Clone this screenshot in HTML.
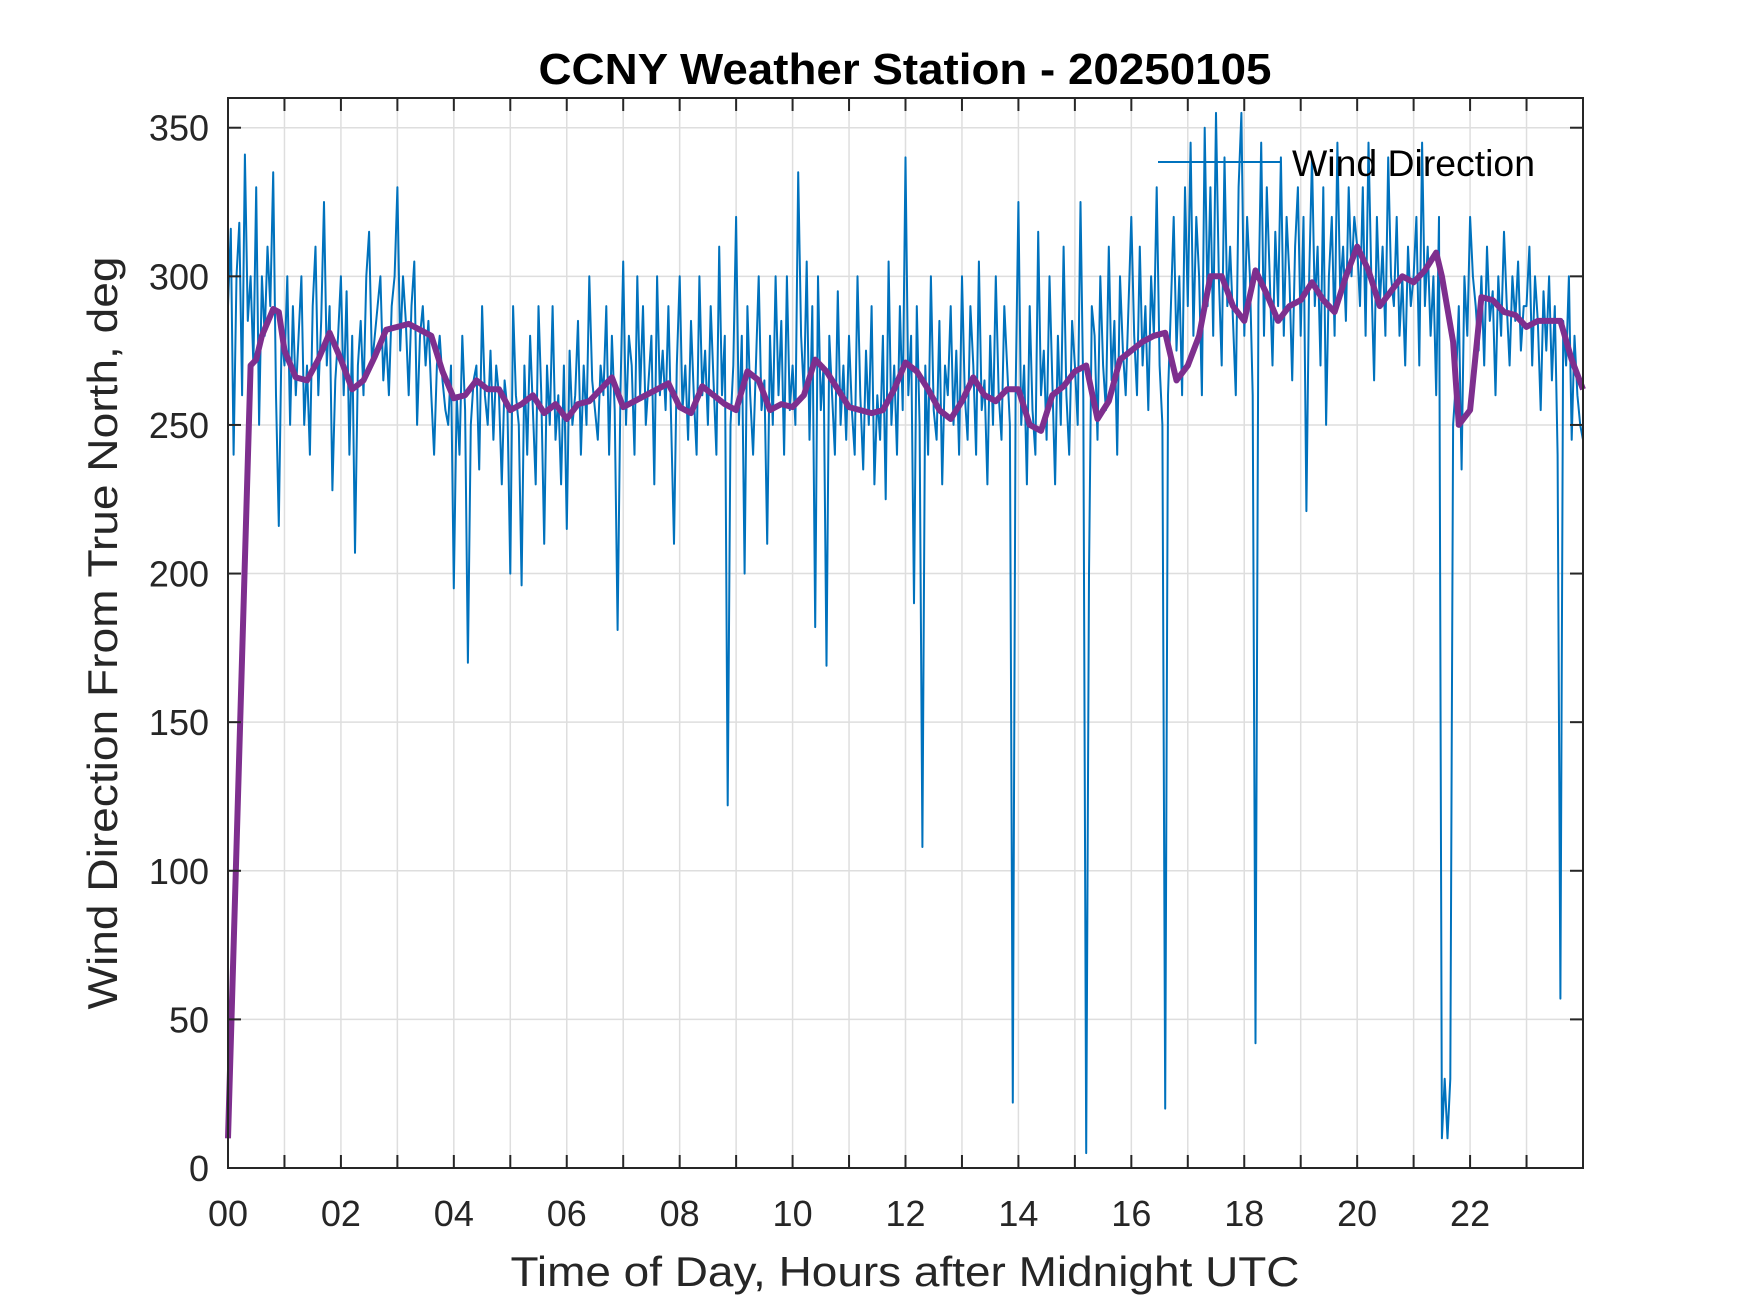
<!DOCTYPE html>
<html><head><meta charset="utf-8"><style>
html,body{margin:0;padding:0;background:#fff;}
svg{display:block;font-family:"Liberation Sans",Arial,sans-serif;}
</style></head><body>
<svg id="chart" width="1750" height="1313" viewBox="0 0 1750 1313" xmlns="http://www.w3.org/2000/svg">
<rect x="0" y="0" width="1750" height="1313" fill="#fff"/>
<g id="grid"></g>
<g id="series"></g>
<g id="axes"></g>
<text x="905" y="84" text-anchor="middle" font-size="44" font-weight="bold" fill="#000" textLength="733" lengthAdjust="spacingAndGlyphs">CCNY Weather Station - 20250105</text>
<text x="905" y="1286" text-anchor="middle" font-size="42" fill="#262626" textLength="789" lengthAdjust="spacingAndGlyphs">Time of Day, Hours after Midnight UTC</text>
<text transform="translate(117,633) rotate(-90)" text-anchor="middle" font-size="42" fill="#262626" textLength="753" lengthAdjust="spacingAndGlyphs">Wind Direction From True North, deg</text>
<g>
<line x1="1158" y1="162" x2="1281" y2="162" stroke="#0072BD" stroke-width="2"/>
<text x="1292" y="176" font-size="37" fill="#000" textLength="243" lengthAdjust="spacingAndGlyphs">Wind Direction</text>
</g>
</svg>
<script>
const blueStep = 0.05;
const blueValues = [
290,316,240,300,318,260,341,285,300,270,330,250,300,280,310,290,335,260,216,280,
270,300,250,290,260,280,300,250,270,240,290,310,260,285,325,270,290,228,265,280,
300,260,295,240,280,207,270,285,260,300,315,270,280,290,300,265,280,260,290,300,
330,275,300,285,260,290,305,250,280,290,270,285,260,240,270,280,265,255,250,270,
195,260,240,280,255,170,250,265,270,235,290,260,250,275,245,270,260,230,265,255,
200,290,260,250,196,270,240,280,255,230,290,260,210,270,250,290,245,260,230,270,
215,275,250,260,285,240,270,250,300,265,255,245,270,260,290,240,280,255,181,260,
305,250,280,270,240,300,260,290,250,265,280,230,300,260,275,255,290,250,210,270,
300,255,270,245,285,260,240,300,260,275,250,290,265,240,310,260,280,122,250,270,
320,250,280,200,290,260,240,270,300,255,265,210,280,250,300,260,285,240,300,255,
270,250,335,280,260,305,245,290,182,300,255,270,169,280,260,240,295,250,270,245,
280,255,240,300,260,235,275,250,290,230,260,245,280,225,305,250,270,240,290,255,
340,260,280,190,290,250,108,270,240,300,255,245,285,230,270,260,290,250,275,240,
300,260,245,290,270,240,305,255,265,230,280,250,300,260,245,290,270,250,22,260,
325,250,270,230,290,255,240,315,260,275,245,300,265,230,280,250,310,260,240,285,
270,250,325,260,5,200,290,280,245,300,270,255,310,265,285,240,300,275,260,290,
320,280,260,310,270,290,255,300,280,330,270,250,20,260,290,320,275,300,260,330,
290,345,280,320,300,260,350,290,330,280,355,300,270,340,290,310,285,260,330,355,
280,320,300,260,42,290,345,280,330,300,270,315,290,340,280,320,300,265,310,330,
280,320,221,300,340,290,310,270,330,250,300,320,280,345,295,310,285,330,300,320,
310,290,330,280,345,300,265,320,290,310,280,340,300,290,320,280,300,270,310,290,
300,320,270,345,290,310,280,300,260,320,10,30,10,30,250,265,290,235,300,280,
320,300,290,275,300,270,310,285,295,260,300,280,315,290,270,300,285,305,275,290,
290,310,270,300,285,255,295,275,300,265,290,240,57,285,270,300,245,280,260,250,245
];
const avgHours = [0,0.4,0.5,0.6,0.8,0.9,1.0,1.2,1.4,1.6,1.8,2.0,2.2,2.4,2.6,2.8,3.0,3.2,3.4,3.6,3.8,4.0,4.2,4.4,4.6,4.8,5.0,5.2,5.4,5.6,5.8,6.0,6.2,6.4,6.6,6.8,7.0,7.2,7.4,7.6,7.8,8.0,8.2,8.4,8.6,8.8,9.0,9.2,9.4,9.6,9.8,10.0,10.2,10.4,10.6,10.8,11.0,11.2,11.4,11.6,11.8,12.0,12.2,12.4,12.6,12.8,13.0,13.2,13.4,13.6,13.8,14.0,14.2,14.4,14.6,14.8,15.0,15.2,15.4,15.6,15.8,16.0,16.2,16.4,16.6,16.8,17.0,17.2,17.4,17.6,17.8,18.0,18.2,18.4,18.6,18.8,19.0,19.2,19.4,19.6,19.8,20.0,20.2,20.4,20.6,20.8,21.0,21.2,21.4,21.5,21.7,21.8,22.0,22.2,22.4,22.6,22.8,23.0,23.2,23.4,23.6,23.8,24.0];
const avgValues = [10,270,272,280,289,288,275,266,265,272,281,272,262,265,273,282,283,284,282,280,268,259,260,265,262,262,255,257,260,254,257,252,257,258,262,266,256,258,260,262,264,256,254,263,260,257,255,268,265,255,257,256,260,272,268,262,256,255,254,255,262,271,268,262,255,252,258,266,260,258,262,262,250,248,260,263,268,270,252,258,272,275,278,280,281,265,270,280,300,300,290,285,302,294,285,290,292,298,292,288,300,310,302,290,295,300,298,302,308,300,278,250,255,293,292,288,287,283,285,285,285,272,262];
const yTicks = [0,50,100,150,200,250,300,350];
const xTickLabels = ["00","02","04","06","08","10","12","14","16","18","20","22"];

const X0=228, X1=1583, Y0=98, Y1=1168, XMAX=24, YMAX=360;
const NS="http://www.w3.org/2000/svg";
const xs = h => X0 + (h/XMAX)*(X1-X0);
const ys = v => Y1 - (v/YMAX)*(Y1-Y0);
function mk(tag, attrs, parent){const e=document.createElementNS(NS,tag);for(const k in attrs)e.setAttribute(k,attrs[k]);parent.appendChild(e);return e;}
const grid=document.getElementById('grid'), series=document.getElementById('series'), axes=document.getElementById('axes');

for(let h=1;h<24;h++){
  const l=mk('line',{x1:xs(h),x2:xs(h),y1:Y0,y2:Y1,stroke:'#dedede','stroke-width':1.5},grid);
  
  
}
yTicks.forEach(v=>{
  const l=mk('line',{x1:X0,x2:X1,y1:ys(v),y2:ys(v),stroke:'#dedede','stroke-width':1.5},grid);
  
  
});

let d='';
blueValues.forEach((v,i)=>{d+=(i?'L':'M')+xs(i*blueStep).toFixed(1)+' '+ys(v).toFixed(1);});
const bl=mk('path',{d:d,fill:'none',stroke:'#0072BD','stroke-width':2,'stroke-linejoin':'round'},series);



let d2='';
avgValues.forEach((v,i)=>{d2+=(i?'L':'M')+xs(avgHours[i]).toFixed(1)+' '+ys(v).toFixed(1);});
const pl=mk('path',{d:d2,fill:'none',stroke:'#7E2F8E','stroke-width':6,'stroke-linejoin':'round'},series);



const box=mk('rect',{x:X0,y:Y0,width:X1-X0,height:Y1-Y0,fill:'none',stroke:'#262626','stroke-width':2},axes);


for(let h=1;h<24;h++){
  const t1=mk('line',{x1:xs(h),x2:xs(h),y1:Y1,y2:Y1-13,stroke:'#262626','stroke-width':2},axes);
  
  
  const t2=mk('line',{x1:xs(h),x2:xs(h),y1:Y0,y2:Y0+13,stroke:'#262626','stroke-width':2},axes);
  
  
}
xTickLabels.forEach((lab,i)=>{
  const t=mk('text',{x:xs(i*2),y:1226,'text-anchor':'middle','font-size':36,fill:'#262626'},axes);
  t.textContent=lab;
  
  
});
yTicks.forEach(v=>{
  const t1=mk('line',{x1:X0,x2:X0+13,y1:ys(v),y2:ys(v),stroke:'#262626','stroke-width':2},axes);
  
  
  const t2=mk('line',{x1:X1,x2:X1-13,y1:ys(v),y2:ys(v),stroke:'#262626','stroke-width':2},axes);
  
  
  const t=mk('text',{x:209,y:ys(v)+13,'text-anchor':'end','font-size':36,fill:'#262626'},axes);
  t.textContent=String(v);
  
  
});
</script>
</body></html>
